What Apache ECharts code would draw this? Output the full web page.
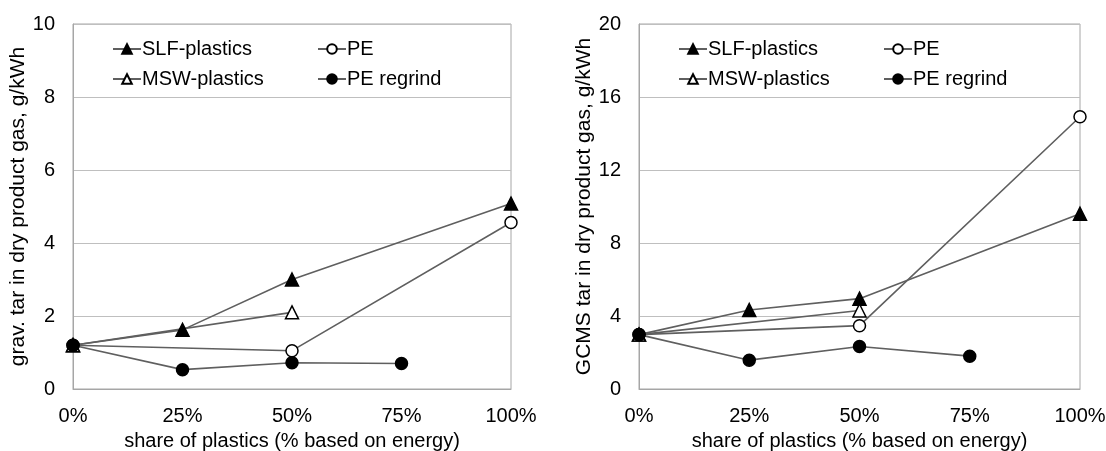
<!DOCTYPE html>
<html><head><meta charset="utf-8">
<script src="https://cdn.jsdelivr.net/npm/echarts@6/dist/echarts.min.js"></script>
<style>html,body{margin:0;padding:0;background:#fff}#c{width:1106px;height:451px}</style>
</head><body><div id="c"></div>
<script>
const xShare = [0, 25, 50, 75, 100];
const seriesNames = ['SLF-plastics', 'MSW-plastics', 'PE', 'PE regrind'];
// left chart: gravimetric tar (g/kWh)
const gravSLF = [1.2, 1.62, 3.0, null, 5.08];
const gravMSW = [1.2, null, 2.1, null, null];
const gravPE = [1.2, null, 1.05, null, 4.56];
const gravRegrind = [1.2, 0.53, 0.72, 0.70, null];
// right chart: GCMS tar (g/kWh)
const gcmsSLF = [2.98, 4.33, 4.95, null, 9.6];
const gcmsMSW = [2.98, null, 4.3, null, null];
const gcmsPE = [2.98, null, 3.47, null, 14.92];
const gcmsRegrind = [2.98, 1.58, 2.33, 1.8, null];

const leftY = {min: 0, max: 10, interval: 2, title: 'grav. tar in dry product gas, g/kWh'};
const rightY = {min: 0, max: 20, interval: 4, title: 'GCMS tar in dry product gas, g/kWh'};
const xTitle = 'share of plastics (% based on energy)';

const FONT = 'Liberation Sans, Arial, sans-serif';
const FS = 20;
const lineColor = '#5f5f5f';
const styles = {
  'SLF-plastics': {symbol: 'triangle', fill: '#000', size: 13},
  'MSW-plastics': {symbol: 'triangle', fill: '#fff', size: 13},
  'PE': {symbol: 'circle', fill: '#fff', size: 12},
  'PE regrind': {symbol: 'circle', fill: '#000', size: 12}
};
function pairs(vals) { return xShare.map((x, i) => vals[i] == null ? null : [x, vals[i]]).filter(p => p); }
function mkSeries(name, vals, gi) {
  const s = styles[name];
  return {
    name, type: 'line', xAxisIndex: gi, yAxisIndex: gi, data: pairs(vals),
    symbol: s.symbol, symbolSize: s.size, showAllSymbol: true, z: 3,
    lineStyle: {color: lineColor, width: 1.6},
    itemStyle: {color: s.fill, borderColor: '#000', borderWidth: 1.5},
    emphasis: {disabled: true}, animation: false
  };
}
const grids = [{left: 73, width: 438, top: 24, height: 365}, {left: 639, width: 441, top: 24, height: 365}];
function mkX(gi) {
  return {
    type: 'value', gridIndex: gi, min: 0, max: 100, interval: 25,
    axisLine: {show: true, lineStyle: {color: '#a6a6a6', width: 1}},
    axisTick: {show: false}, splitLine: {show: false},
    axisLabel: {formatter: '{value}%', color: '#000', fontSize: FS, fontFamily: FONT, margin: 17},
    name: xTitle, nameLocation: 'middle', nameGap: 42,
    nameTextStyle: {color: '#000', fontSize: FS, fontFamily: FONT}
  };
}
function mkY(gi, cfg, gap) {
  return {
    type: 'value', gridIndex: gi, min: cfg.min, max: cfg.max, interval: cfg.interval,
    axisLine: {show: true, lineStyle: {color: '#a6a6a6', width: 1}},
    axisTick: {show: false},
    splitLine: {show: true, lineStyle: {color: '#bfbfbf', width: 1}},
    axisLabel: {color: '#000', fontSize: FS, fontFamily: FONT, margin: 18},
    name: cfg.title, nameLocation: 'middle', nameGap: gap, nameRotate: 90,
    nameTextStyle: {color: '#000', fontSize: 21, fontFamily: FONT}
  };
}
const legendPos = [[112, 39], [112, 69], [317, 39], [317, 69]];
const legendOrder = ['SLF-plastics', 'MSW-plastics', 'PE', 'PE regrind'];
const legends = [];
[0, 566].forEach(off => {
  legendOrder.forEach((n, i) => {
    legends.push({
      data: [n], left: legendPos[i][0] + off, top: legendPos[i][1], itemWidth: 28, itemHeight: 12, itemGap: 2,
      padding: 0,
      textStyle: {color: '#000', fontSize: FS, fontFamily: FONT, padding: [0, 0, 0, -4]},
      selectedMode: false
    });
  });
});
const chart = echarts.init(document.getElementById('c'), null, {renderer: 'canvas'});
chart.setOption({
  animation: false,
  grid: grids.map(g => Object.assign({show: true, borderColor: '#a6a6a6', borderWidth: 1, backgroundColor: 'transparent', containLabel: false, outerBoundsMode: 'none'}, g)),
  xAxis: [mkX(0), mkX(1)],
  yAxis: [mkY(0, leftY, 42), mkY(1, rightY, 42)],
  legend: legends,
  series: [
    mkSeries('SLF-plastics', gravSLF, 0), mkSeries('MSW-plastics', gravMSW, 0),
    mkSeries('PE', gravPE, 0), mkSeries('PE regrind', gravRegrind, 0),
    mkSeries('SLF-plastics', gcmsSLF, 1), mkSeries('MSW-plastics', gcmsMSW, 1),
    mkSeries('PE', gcmsPE, 1), mkSeries('PE regrind', gcmsRegrind, 1)
  ]
});
</script></body></html>
